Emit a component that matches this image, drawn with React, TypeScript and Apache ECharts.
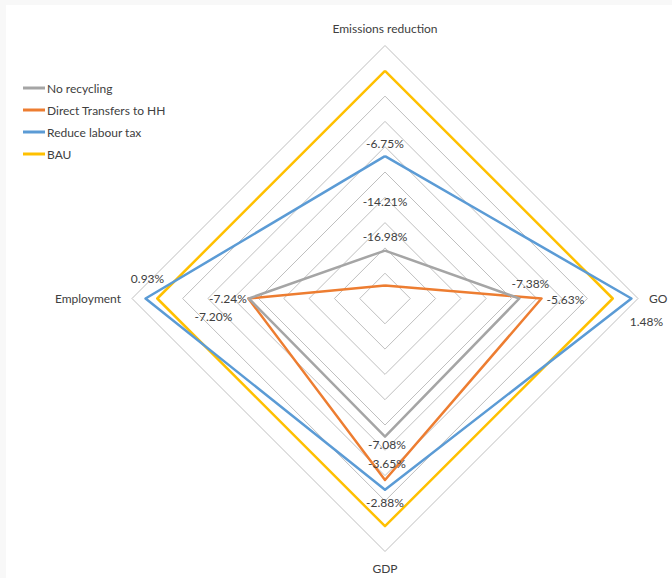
import React, { useEffect, useRef } from "react";
import * as echarts from "echarts";

const indicators = ["Emissions reduction", "Employment", "GDP", "GO"];
const seriesNames = ["No recycling", "Direct Transfers to HH", "Reduce labour tax", "BAU"];
// values in %, order follows indicators
const noRecycling = [-14.21, -7.24, -7.08, -7.38];
const directTransfers = [-16.98, -7.2, -3.65, -5.63];
const reduceLabourTax = [-6.75, 0.93, -2.88, 1.48];
const bau = [0, 0, 0, 0];
const axisMin = -18;
const axisMax = 2;
const colors = ["#A5A5A5", "#ED7D31", "#5B9BD5", "#FFC000"];

// label offsets (px) keyed by label text
const labelOffsets: Record<string, [number, number]> = {
  "-6.75%": [0, -13],
  "-14.21%": [0, -49],
  "-16.98%": [0, -49],
  "-7.38%": [11, -15],
  "-5.63%": [24, 1],
  "1.48%": [15, 23],
  "0.93%": [2, -20],
  "-7.24%": [-21, 0],
  "-7.20%": [-35, 18],
  "-7.08%": [2, 8],
  "-3.65%": [2, -17],
  "-2.88%": [0, 13],
};

const FONT = "Lato, 'Open Sans', sans-serif";

export default function App() {
  const ref = useRef<HTMLDivElement>(null);
  useEffect(() => {
    if (!ref.current) return;
    const chart = echarts.init(ref.current, undefined, { renderer: "svg" });
    const allData = [noRecycling, directTransfers, reduceLabourTax, bau];
    chart.setOption({
      animation: false,
      backgroundColor: "#ffffff",
      textStyle: { fontFamily: FONT },
      legend: {
        orient: "vertical",
        left: 12,
        top: 72,
        itemWidth: 22,
        itemHeight: 3,
        itemGap: 10,
        icon: "rect",
        data: seriesNames,
        textStyle: { fontFamily: FONT, fontSize: 12, color: "#404040", padding: [0, 0, 0, -3] },
      },
      radar: {
        center: [379, 293.5],
        radius: 253,
        startAngle: 90,
        shape: "polygon",
        splitNumber: 10,
        indicator: indicators.map((n) => ({ name: n, min: axisMin, max: axisMax })),
        axisName: { color: "#404040", fontSize: 12, fontFamily: FONT },
        nameGap: 11,
        axisLine: { show: false },
        axisTick: { show: false },
        axisLabel: { show: false },
        splitArea: { show: false },
        splitLine: { lineStyle: { color: "#BFBFBF", width: 1 } },
      },
      series: allData.map((d, i) => ({
        type: "radar",
        name: seriesNames[i],
        symbol: "circle",
        symbolSize: 1,
        z: 2 + (3 - i),
        lineStyle: { color: colors[i], width: 2.5 },
        itemStyle: { color: colors[i] },
        label: {
          show: i < 3,
          position: "inside",
          fontFamily: FONT,
          fontSize: 12,
          color: "#404040",
          formatter: (p: any) => Number(p.value).toFixed(2) + "%",
        },
        labelLayout: (p: any) => {
          const o = labelOffsets[p.text];
          return o ? { dx: o[0], dy: o[1] } : {};
        },
        data: [{ value: d, name: seriesNames[i] }],
      })),
    });
    return () => chart.dispose();
  }, []);
  return (
    <div
      style={{
        position: "fixed",
        left: 0,
        top: 0,
        width: 672,
        height: 578,
        background: "#f8f8f8",
      }}
    >
      <div
        ref={ref}
        style={{ position: "absolute", left: 6, top: 5, width: 666, height: 573, background: "#fff" }}
      />
    </div>
  );
}
